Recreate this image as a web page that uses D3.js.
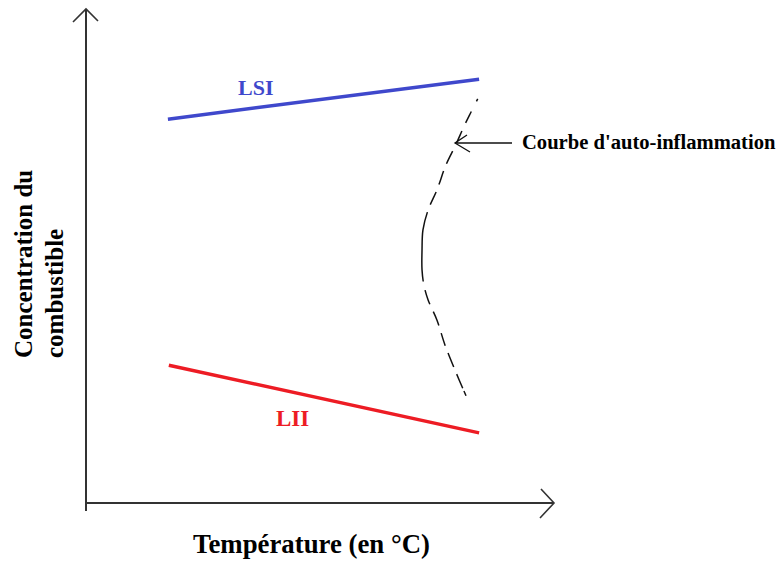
<!DOCTYPE html>
<html><head><meta charset="utf-8">
<script src="https://cdn.jsdelivr.net/npm/d3@7"></script>
<style>body{margin:0;background:#fff}svg{display:block}text{font-family:"Liberation Serif","Times New Roman",serif;font-weight:bold}</style>
</head><body>
<script>
// Data (temperature x, concentration y, arbitrary units 0-100)
const lsiTemp = [17.5, 84.0];
const lsiConc = [77.7, 85.8];
const liiTemp = [17.7, 84.0];
const liiConc = [27.9, 14.2];
const autoTemp = [83.7, 82.2, 80.9, 79.0, 76.9, 75.0, 73.1, 72.0, 71.8, 71.8, 72.2, 73.1, 75.0, 76.7, 78.8, 81.2];
const autoConc = [81.8, 79.0, 76.5, 72.5, 68.4, 63.4, 59.3, 55.3, 51.2, 47.2, 44.1, 41.1, 37.0, 32.0, 27.0, 21.7];
const labels = {lsi: "LSI", lii: "LII", auto: "Courbe d'auto-inflammation", xTitle: "Température (en °C)", yTitle: ["Concentration du", "combustible"]};

const W = 776, H = 561;
const svg = d3.select("body").append("svg").attr("width", W).attr("height", H);
const x = d3.scaleLinear().domain([0, 100]).range([86, 554]);
const y = d3.scaleLinear().domain([0, 100]).range([503, 9]);

const axisColor = "#333";
// Y axis
svg.append("line").attr("x1", x(0)).attr("x2", x(0)).attr("y1", y(-1.6)).attr("y2", y(100))
  .attr("stroke", axisColor).attr("stroke-width", 2);
svg.append("path").attr("d", `M${x(0)-13},${y(100)+13}L${x(0)},${y(100)}L${x(0)+12},${y(100)+12}`)
  .attr("fill", "none").attr("stroke", axisColor).attr("stroke-width", 1.6);
// X axis
svg.append("line").attr("x1", x(0)).attr("x2", x(100)).attr("y1", y(0)).attr("y2", y(0))
  .attr("stroke", axisColor).attr("stroke-width", 2);
svg.append("path").attr("d", `M${x(100)-13},${y(0)-14}L${x(100)},${y(0)}L${x(100)-14},${y(0)+15}`)
  .attr("fill", "none").attr("stroke", axisColor).attr("stroke-width", 1.6);

const line = d3.line().x(d => x(d[0])).y(d => y(d[1]));
svg.append("path").attr("d", line(d3.zip(lsiTemp, lsiConc))).attr("stroke", "#3F48CC").attr("stroke-width", 3.5).attr("fill", "none");
svg.append("path").attr("d", line(d3.zip(liiTemp, liiConc))).attr("stroke", "#ED1C24").attr("stroke-width", 3.5).attr("fill", "none");

const curve = d3.line().x(d => x(d[0])).y(d => y(d[1])).curve(d3.curveCatmullRom);
svg.append("path").attr("d", curve(d3.zip(autoTemp, autoConc))).attr("stroke", "#111").attr("stroke-width", 1.5).attr("fill", "none")
  .attr("stroke-dasharray", "3,11,13,9,13,9,14,8,14,8,14,8,70,9,15,8,15,8,13,8,15,8,15");

// Annotation arrow
const ay = 143;
svg.append("line").attr("x1", 512).attr("x2", 455).attr("y1", ay).attr("y2", ay).attr("stroke", "#111").attr("stroke-width", 1.3);
svg.append("path").attr("d", `M467,${ay-8}L455,${ay}L470,${ay+9}`).attr("fill", "none").attr("stroke", "#111").attr("stroke-width", 1.3);
svg.append("text").attr("x", 522).attr("y", 149).attr("font-size", 20.6).attr("fill", "#000").text(labels.auto);

svg.append("text").attr("x", 238).attr("y", 95).attr("font-size", 22).attr("fill", "#3F48CC").text(labels.lsi);
svg.append("text").attr("x", 276).attr("y", 426).attr("font-size", 23).attr("fill", "#ED1C24").text(labels.lii);

svg.append("text").attr("x", 193).attr("y", 553).attr("font-size", 26.8).attr("fill", "#000").text(labels.xTitle);
const yt = svg.append("g").attr("transform", "translate(32,358) rotate(-90)");
yt.selectAll("text").data(labels.yTitle).join("text").attr("x", 0).attr("y", (d, i) => i * 31)
  .attr("font-size", 25).attr("fill", "#000").text(d => d);
</script>
</body></html>
